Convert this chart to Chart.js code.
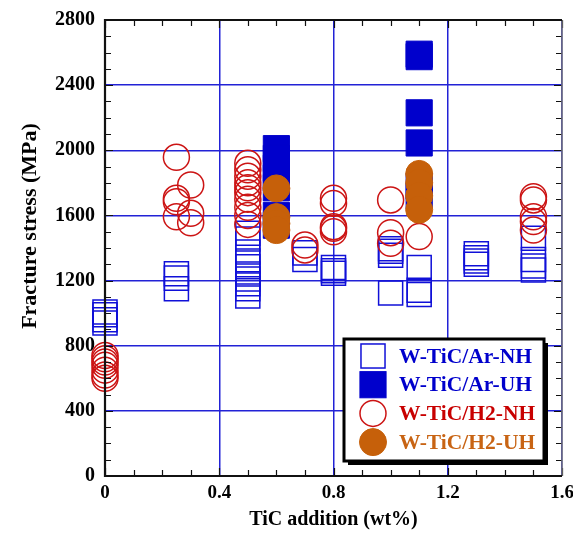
<!DOCTYPE html>
<html>
<head>
<meta charset="utf-8">
<script src="https://cdn.jsdelivr.net/npm/chart.js@4.4.1/dist/chart.umd.min.js"></script>
<style>
  html, body { margin: 0; padding: 0; background: #fff; }
  #wrap { width: 573px; height: 533px; }
</style>
</head>
<body>
<div id="wrap"><canvas id="chart" width="573" height="533"></canvas></div>
<script>
// W-TiC/Ar-NH (open squares)
const arNhTic = [0, 0, 0, 0, 0.25, 0.25, 0.25,
  0.5, 0.5, 0.5, 0.5, 0.5, 0.5, 0.5, 0.5, 0.5, 0.5,
  0.7, 0.7, 0.8, 0.8, 0.8, 1.0, 1.0, 1.0, 1.0,
  1.1, 1.1, 1.1, 1.3, 1.3, 1.3, 1.3, 1.5, 1.5, 1.5, 1.5];
const arNhStress = [1007, 990, 960, 940, 1242, 1215, 1150,
  1490, 1455, 1375, 1320, 1285, 1240, 1210, 1180, 1150, 1105,
  1370, 1330, 1280, 1260, 1245, 1396, 1380, 1355, 1124,
  1280, 1140, 1115, 1365, 1340, 1320, 1300, 1460, 1330, 1290, 1265];

// W-TiC/Ar-UH (filled squares)
const arUhTic = [0.6, 0.6, 0.6, 0.6, 0.6, 0.6, 0.6, 1.1, 1.1, 1.1, 1.1, 1.1, 1.1];
const arUhStress = [2010, 1950, 1890, 1830, 1770, 1600, 1540, 2590, 2575, 2230, 2045, 1780, 1720];

// W-TiC/H2-NH (open circles)
const h2NhTic = [0, 0, 0, 0, 0, 0, 0, 0.25, 0.25, 0.25, 0.25, 0.3, 0.3, 0.3,
  0.5, 0.5, 0.5, 0.5, 0.5, 0.5, 0.5, 0.5, 0.5, 0.5,
  0.7, 0.7, 0.8, 0.8, 0.8, 0.8, 0.8, 1.0, 1.0, 1.0, 1.1,
  1.5, 1.5, 1.5, 1.5, 1.5];
const h2NhStress = [740, 720, 700, 680, 650, 620, 600, 1957, 1705, 1684, 1592, 1787, 1613, 1555,
  1920, 1880, 1840, 1800, 1770, 1740, 1700, 1650, 1600, 1545,
  1418, 1388, 1705, 1674, 1531, 1521, 1500, 1695, 1494, 1429, 1470,
  1715, 1695, 1592, 1562, 1510];

// W-TiC/H2-UH (filled circles)
const h2UhTic = [0.6, 0.6, 0.6, 0.6, 1.1, 1.1, 1.1, 1.1];
const h2UhStress = [1766, 1590, 1550, 1510, 1855, 1800, 1720, 1635];

const seriesNames = ['W-TiC/Ar-NH', 'W-TiC/Ar-UH', 'W-TiC/H2-NH', 'W-TiC/H2-UH'];
const xTicks = [0, 0.4, 0.8, 1.2, 1.6];
const yTicks = [0, 400, 800, 1200, 1600, 2000, 2400, 2800];
const yTitle = 'Fracture stress (MPa)';

const toPoints = (xs, ys) => xs.map((x, i) => ({ x: x, y: ys[i] }));
const serif = 'Liberation Serif, Times New Roman, serif';

// cadre noir + petites graduations a l'interieur
const framePlugin = {
  id: 'frame',
  afterDatasetsDraw(chart) {
    const { ctx, chartArea: a, scales: { x, y } } = chart;
    ctx.save();
    ctx.strokeStyle = '#111';
    ctx.lineWidth = 1.2;
    for (let v = 0; v <= 2800; v += 100) {
      const py = Math.round(y.getPixelForValue(v)) + 0.5;
      const len = v % 400 === 0 ? 8 : 6;
      ctx.beginPath();
      ctx.moveTo(a.left, py); ctx.lineTo(a.left + len, py);
      ctx.moveTo(a.right, py); ctx.lineTo(a.right - len, py);
      ctx.stroke();
    }
    for (let i = 0; i <= 16; i++) {
      const px = Math.round(x.getPixelForValue(i / 10)) + 0.5;
      const len = i % 4 === 0 ? 8 : 6;
      ctx.beginPath();
      ctx.moveTo(px, a.bottom); ctx.lineTo(px, a.bottom - len);
      ctx.moveTo(px, a.top); ctx.lineTo(px, a.top + len);
      ctx.stroke();
    }
    ctx.lineWidth = 1.5;
    ctx.strokeStyle = '#777';
    ctx.beginPath();
    ctx.moveTo(a.right, a.top); ctx.lineTo(a.right, a.bottom);
    ctx.stroke();
    ctx.strokeStyle = '#111';
    ctx.lineWidth = 2.2;
    ctx.beginPath();
    ctx.moveTo(a.right, a.top); ctx.lineTo(a.left, a.top);
    ctx.lineTo(a.left, a.bottom); ctx.lineTo(a.right, a.bottom);
    ctx.stroke();

    // titre vertical, un peu plus haut que le centre
    ctx.translate(30, 226);
    ctx.rotate(-Math.PI / 2);
    ctx.font = 'bold 22px ' + serif;
    ctx.fillStyle = '#000';
    ctx.textAlign = 'center';
    ctx.textBaseline = 'middle';
    ctx.fillText(yTitle, 0, 0);
    ctx.restore();
  }
};

// legende dans le coin bas droit, avec ombre
const legendPlugin = {
  id: 'boxLegend',
  afterDraw(chart) {
    const { ctx } = chart;
    const bx = 344, by = 339, bw = 200, bh = 122;
    ctx.save();
    ctx.fillStyle = '#000';
    ctx.fillRect(bx + 4, by + 4, bw, bh);
    ctx.fillStyle = '#fff';
    ctx.fillRect(bx, by, bw, bh);
    ctx.lineWidth = 3;
    ctx.strokeStyle = '#000';
    ctx.strokeRect(bx, by, bw, bh);
    ctx.font = 'bold 21.5px ' + serif;
    ctx.textBaseline = 'middle';
    chart.data.datasets.forEach((ds, i) => {
      const cy = 356 + i * 28.7;
      const cx = 373;
      ctx.lineWidth = ds.borderWidth;
      ctx.strokeStyle = ds.borderColor;
      ctx.fillStyle = ds.backgroundColor;
      if (ds.pointStyle === 'rect') {
        const h = ds.pointRadius / Math.SQRT2;
        if (ds.fill) ctx.fillRect(cx - h, cy - h, 2 * h, 2 * h);
        ctx.strokeRect(cx - h, cy - h, 2 * h, 2 * h);
      } else {
        ctx.beginPath();
        ctx.arc(cx, cy, ds.pointRadius, 0, Math.PI * 2);
        if (ds.fill) ctx.fill();
        ctx.stroke();
      }
      ctx.fillStyle = ds.textColor;
      ctx.fillText(ds.label, 399, cy + 1);
    });
    ctx.restore();
  }
};

const datasets = [
  {
    label: seriesNames[0], data: toPoints(arNhTic, arNhStress),
    pointStyle: 'rect', pointRadius: 17, borderWidth: 1.5,
    borderColor: '#1010d8', backgroundColor: 'rgba(0,0,0,0)', textColor: '#0000cc',
    fill: false, order: 3
  },
  {
    label: seriesNames[1], data: toPoints(arUhTic, arUhStress),
    pointStyle: 'rect', pointRadius: 18.5, borderWidth: 1,
    borderColor: '#0000cc', backgroundColor: '#0000cc', textColor: '#0000cc',
    fill: true, order: 2
  },
  {
    label: seriesNames[2], data: toPoints(h2NhTic, h2NhStress),
    pointStyle: 'circle', pointRadius: 13, borderWidth: 1.5,
    borderColor: '#cc1414', backgroundColor: 'rgba(0,0,0,0)', textColor: '#c80000',
    fill: false, order: 1
  },
  {
    label: seriesNames[3], data: toPoints(h2UhTic, h2UhStress),
    pointStyle: 'circle', pointRadius: 13.5, borderWidth: 1,
    borderColor: '#c6600a', backgroundColor: '#c6600a', textColor: '#c86414',
    fill: true, order: 0
  }
];
datasets.forEach(ds => {
  ds.showLine = false;
  ds.clip = false;
  ds.pointHoverRadius = ds.pointRadius;
});

new Chart(document.getElementById('chart'), {
  type: 'scatter',
  data: { datasets: datasets },
  options: {
    responsive: false,
    animation: false,
    events: [],
    layout: { autoPadding: false, padding: { top: 20, right: 11, left: 0, bottom: 0 } },
    plugins: { legend: { display: false }, tooltip: { enabled: false } },
    scales: {
      x: {
        type: 'linear', min: 0, max: 1.6,
        afterBuildTicks: s => { s.ticks = xTicks.map(v => ({ value: v })); },
        afterFit: s => { s.height = 57; s.paddingLeft = 0; s.paddingRight = 0; },
        border: { display: false },
        grid: { color: '#2222d6', lineWidth: 1.5, drawTicks: false },
        ticks: {
          padding: 6, color: '#000', maxRotation: 0,
          font: { family: serif, size: 19, weight: 'bold' },
          callback: v => v === 0 ? '0' : v.toFixed(1)
        },
        title: {
          display: true, text: 'TiC addition (wt%)', color: '#000',
          font: { family: serif, size: 20, weight: 'bold' },
          padding: { top: 0, bottom: 1 }
        }
      },
      y: {
        type: 'linear', min: 0, max: 2800,
        afterBuildTicks: s => { s.ticks = yTicks.map(v => ({ value: v })); },
        afterFit: s => { s.width = 105; s.paddingTop = 0; s.paddingBottom = 0; },
        border: { display: false },
        grid: { color: '#2222d6', lineWidth: 1.5, drawTicks: false },
        ticks: {
          padding: 10, color: '#000',
          font: { family: serif, size: 20, weight: 'bold' },
          callback: v => String(v)
        },
        title: { display: false }
      }
    }
  },
  plugins: [framePlugin, legendPlugin]
});
</script>
</body>
</html>
